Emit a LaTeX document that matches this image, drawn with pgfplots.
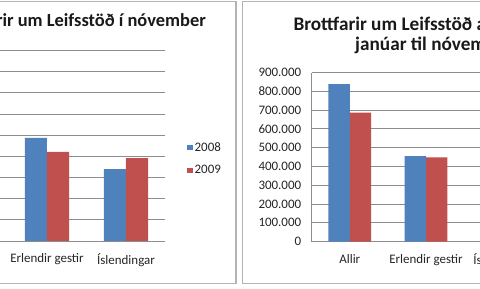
\documentclass[border=0pt]{standalone}
\usepackage{pgfplots}
\pgfplotsset{compat=1.18}
\usepackage{fontspec}
\setmainfont{Carlito}
\definecolor{xblue}{HTML}{4F81BD}
\definecolor{xred}{HTML}{C0504D}
\definecolor{gridc}{HTML}{8C8C8C}
\definecolor{framec}{HTML}{B4B4B4}
\pgfplotsset{
  xlchart/.style={
    scale only axis, anchor=south west,
    xmin=-0.5, xmax=2.5, ymin=0,
    xtick=data, xticklabels={Allir, Erlendir gestir, Íslendingar},
    major tick length=0pt,
    ymajorgrids, grid style={gridc, line width=0.8bp},
    axis x line*=bottom, axis y line*=left,
    axis line style={gridc, line width=0.8bp},
    tick label style={font=\fontsize{13}{15}\selectfont, text=black!85},
    xticklabel style={yshift=-9bp},
    yticklabel style={xshift=-7bp},
    scaled y ticks=false,
    yticklabel={\pgfmathprintnumber[fixed, precision=0, 1000 sep={.}, assume math mode=true]{\tick}},
  }
}
\begin{document}
\begin{tikzpicture}
\path[use as bounding box] (0,0) rectangle (480bp,289bp);
\clip (0,0) rectangle (480bp,289bp);
\fill[white] (0,0) rectangle (480bp,289bp);
% chart frames
\draw[framec, line width=1.2bp] (-200bp,5.5bp) rectangle (236bp,287.5bp);
\draw[framec, line width=1.2bp] (242.3bp,5.5bp) rectangle (700bp,287.5bp);
% left chart (its value labels lie outside the cropped view)
\begin{axis}[xlchart, at={(-71.5bp,48bp)}, width=237bp, height=190.5bp,
  ymax=90000, ytick={0,10000,...,90000}, yticklabels={},
  legend style={at={(1.09,0.53)}, anchor=north west, draw=none, fill=none,
    inner sep=0pt, row sep=9bp, font=\fontsize{13}{15}\selectfont, text=black!85},
  legend cell align=left,
  legend image code/.code={\fill[#1] (0bp,-2.8bp) rectangle (5.6bp,2.8bp);}]
\addplot[ybar, fill=xblue, draw=none, bar width=0.28, bar shift=-0.14]
  coordinates {(0,82500) (1,48700) (2,33900)};
\addplot[ybar, fill=xred, draw=none, bar width=0.28, bar shift=0.14]
  coordinates {(0,81200) (1,42100) (2,39100)};
\legend{2008,2009}
\end{axis}
% right chart
\begin{axis}[xlchart, at={(311.7bp,47.5bp)}, width=228.6bp, height=169bp,
  ymax=900000, ytick={0,100000,...,900000}]
\addplot[ybar, fill=xblue, draw=none, bar width=0.281, bar shift=-0.1405]
  coordinates {(0,838000) (1,455000) (2,385000)};
\addplot[ybar, fill=xred, draw=none, bar width=0.281, bar shift=0.1405]
  coordinates {(0,686000) (1,448000) (2,238000)};
\end{axis}
% titles
\node[anchor=east, inner sep=0pt, font=\bfseries\fontsize{18.5}{22}\selectfont, text=black!90]
  at (206bp,269bp) {Brottfarir um Leifsstöð í nóvember};
\node[anchor=west, inner sep=0pt, font=\bfseries\fontsize{19.3}{22}\selectfont, text=black!90]
  at (293.3bp,265bp) {Brottfarir um Leifsstöð á tímabilinu};
\node[anchor=west, inner sep=0pt, font=\bfseries\fontsize{19.3}{22}\selectfont, text=black!90]
  at (355bp,244bp) {janúar til nóvember};
\end{tikzpicture}
\end{document}
